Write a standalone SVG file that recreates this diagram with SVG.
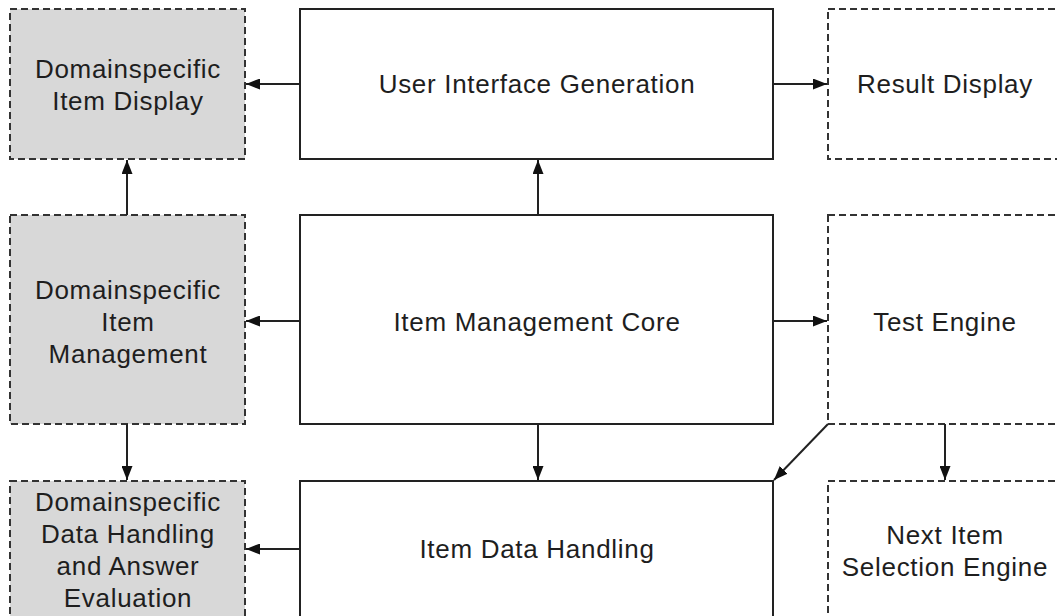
<svg xmlns="http://www.w3.org/2000/svg" width="1057" height="616" viewBox="0 0 1057 616">
<style>
.solid{fill:#fff;stroke:#222;stroke-width:2}
.dash{fill:#fff;stroke:#333;stroke-width:2;stroke-dasharray:7 4}
.gray{fill:#d8d8d8}
text{font-family:"Liberation Sans",Arial,sans-serif;font-size:26px;letter-spacing:0.7px;fill:#1e1e1e;text-anchor:middle}
.c line{stroke:#222;stroke-width:2;marker-end:url(#ah)}
</style>
<defs>
<marker id="ah" viewBox="0 0 14 11" refX="14" refY="5.5" markerWidth="14" markerHeight="11" markerUnits="userSpaceOnUse" orient="auto">
<path d="M0,0 L14,5.5 L0,11 z" fill="#111"/>
</marker>
</defs>
<rect width="1057" height="616" fill="#fff"/>
<g id="dom-display">
<rect class="dash gray" x="10" y="9" width="235" height="150"/>
<text x="128" y="78">Domainspecific</text>
<text x="128" y="110">Item Display</text>
</g>
<g id="ui-gen">
<rect class="solid" x="300" y="9" width="473" height="150"/>
<text x="537" y="93">User Interface Generation</text>
</g>
<g id="result-display">
<rect class="dash" x="828" y="9" width="240" height="150"/>
<text x="945" y="93">Result Display</text>
</g>
<g id="dom-management">
<rect class="dash gray" x="10" y="215" width="235" height="209"/>
<text x="128" y="299">Domainspecific</text>
<text x="128" y="331">Item</text>
<text x="128" y="363">Management</text>
</g>
<g id="core">
<rect class="solid" x="300" y="215" width="473" height="209"/>
<text x="537" y="331">Item Management Core</text>
</g>
<g id="test-engine">
<rect class="dash" x="828" y="215" width="240" height="209"/>
<text x="945" y="331">Test Engine</text>
</g>
<g id="dom-data">
<rect class="dash gray" x="10" y="481" width="235" height="145"/>
<text x="128" y="511">Domainspecific</text>
<text x="128" y="543">Data Handling</text>
<text x="128" y="575">and Answer</text>
<text x="128" y="607">Evaluation</text>
</g>
<g id="data-handling">
<rect class="solid" x="300" y="481" width="473" height="145"/>
<text x="537" y="558">Item Data Handling</text>
</g>
<g id="next-item">
<rect class="dash" x="828" y="481" width="240" height="145"/>
<text x="945" y="544">Next Item</text>
<text x="945" y="576">Selection Engine</text>
</g>
<g id="connectors" class="c">
<line x1="300" y1="84" x2="246" y2="84"/>
<line x1="773" y1="84" x2="827" y2="84"/>
<line x1="538" y1="215" x2="538" y2="160"/>
<line x1="127" y1="215" x2="127" y2="160"/>
<line x1="300" y1="321" x2="246" y2="321"/>
<line x1="773" y1="321" x2="827" y2="321"/>
<line x1="538" y1="424" x2="538" y2="480"/>
<line x1="127" y1="424" x2="127" y2="480"/>
<line x1="945" y1="424" x2="945" y2="480"/>
<line x1="828" y1="424" x2="774" y2="480"/>
<line x1="300" y1="549" x2="246" y2="549"/>
</g>
</svg>
